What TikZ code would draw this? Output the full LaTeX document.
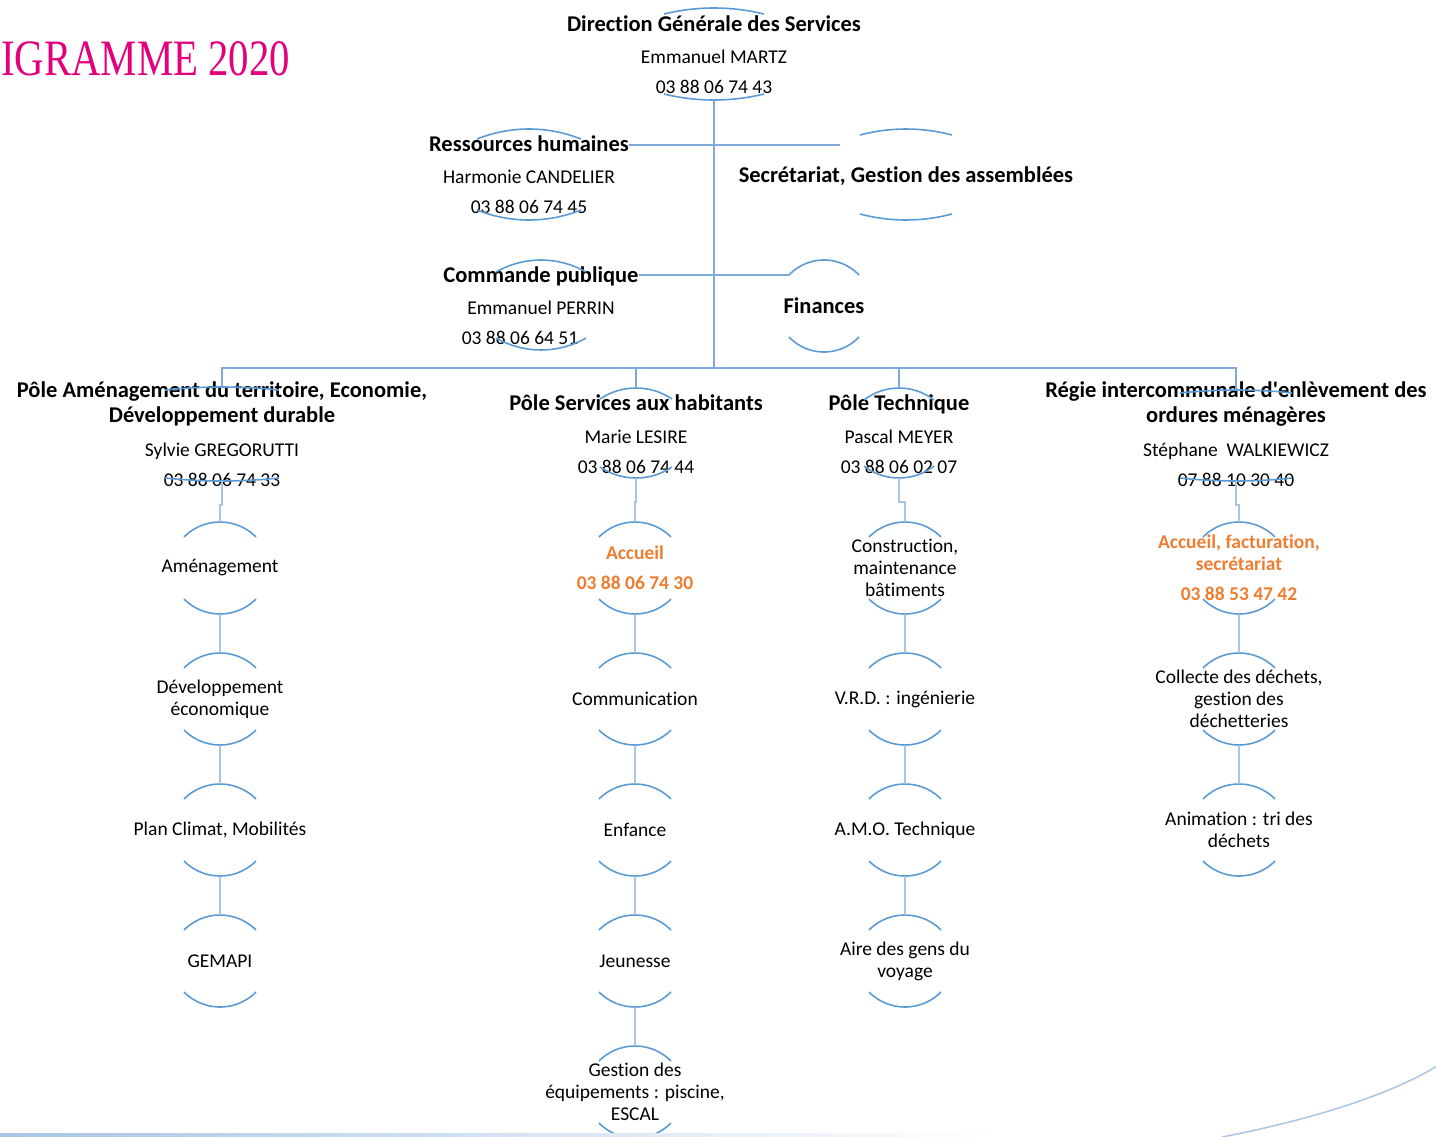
\documentclass[tikz,border=0pt]{standalone}
\usepackage{fontspec}
\setmainfont{Carlito}[Ligatures={NoCommon}]
\newfontfamily\titlefont[FakeStretch=0.8]{Liberation Serif}
\usetikzlibrary{calc}
\definecolor{capblue}{HTML}{5B9BD5}
\definecolor{linkblue}{HTML}{7FA9DC}
\definecolor{subblue}{HTML}{A9C5E6}
\definecolor{accent}{HTML}{ED7D31}
\definecolor{rose}{HTML}{E3007D}

% bold first line of a header box
\newcommand{\hdt}[1]{{\bfseries\fontsize{22.5}{25}\selectfont #1}}
% top and bottom arcs of a box: name, half chord, sagitta, apex above, apex below
\newcommand{\arcpair}[5]{%
  \pgfmathsetmacro{\capR}{(#2*#2+#3*#3)/(2*#3)}%
  \pgfmathsetmacro{\capA}{asin(#2/\capR)}%
  \coordinate (#1-t) at ($(#1.center)+(0,#4)$);%
  \coordinate (#1-b) at ($(#1.center)+(0,-#5)$);%
  \draw[capline] ($(#1-t)+(-#2,-#3)$) arc[start angle={90+\capA}, end angle={90-\capA}, radius=\capR];%
  \draw[capline] ($(#1-b)+(-#2,#3)$) arc[start angle={270-\capA}, end angle={270+\capA}, radius=\capR];%
}

\begin{document}
\begin{tikzpicture}[x=1pt, y=1pt,
  hd/.style={align=center, inner sep=0pt, font=\fontsize{19.5}{23}\selectfont},
  svc/.style={align=center, inner sep=0pt, font=\fontsize{19.5}{22}\selectfont},
  hot/.style={svc, text=accent, font=\bfseries\fontsize{19.5}{22}\selectfont},
  capline/.style={capblue, line width=1.6pt},
  trunk/.style={linkblue, line width=1.4pt},
  sublink/.style={subblue, line width=1.4pt}
]
  \useasboundingbox (0,0) rectangle (1436,-1136);

  \node[anchor=base west, inner sep=0pt, text=rose, font=\titlefont\fontsize{51}{51}\selectfont] (ttl) at (1,-75) {IGRAMME 2020};

  % direction and services
  \node[hd] (dgs) at (714,-55) {\hdt{Direction Générale des Services}\\[9pt]Emmanuel MARTZ\\[7pt]03 88 06 74 43};
  \node[hd] (rh) at (529,-175) {\hdt{Ressources humaines}\\[9pt]Harmonie CANDELIER\\[7pt]03 88 06 74 45};
  \node[hd] (sec) at (906,-176) {\hdt{Secrétariat, Gestion des assemblées}};
  \node[hd] (cp) at (541,-306) {\hdt{Commande publique}\\[9pt]Emmanuel PERRIN\\[7pt]03 88 06 64 51\hspace*{42pt}};
  \node[hd] (fin) at (824,-306) {\hdt{Finances}};

  % poles
  \node[hd] (p1) at (222,-434) {\hdt{Pôle Aménagement du territoire, Economie,}\\[2pt]\hdt{Développement durable}\\[11pt]Sylvie GREGORUTTI\\[7pt]03 88 06 74 33};
  \node[hd] (p2) at (636,-434) {\hdt{Pôle Services aux habitants}\\[10pt]Marie LESIRE\\[7pt]03 88 06 74 44};
  \node[hd] (p3) at (899,-434) {\hdt{Pôle Technique}\\[10pt]Pascal MEYER\\[7pt]03 88 06 02 07};
  \node[hd] (p4) at (1236,-434) {\hdt{Régie intercommunale d\textquotesingle enlèvement des}\\[2pt]\hdt{ordures ménagères}\\[11pt]Stéphane\ \ WALKIEWICZ\\[7pt]07 88 10 30 40};

  % services
  \node[svc] (amg) at (220,-568) {Aménagement};
  \node[svc] (dev) at (220,-699) {Développement\\économique};
  \node[svc] (pcl) at (220,-830) {Plan Climat, Mobilités};
  \node[svc] (gem) at (220,-961) {GEMAPI};
  \node[hot] (acc) at (635,-568) {Accueil\\[8pt]03 88 06 74 30};
  \node[svc] (com) at (635,-699) {Communication};
  \node[svc] (enf) at (635,-830) {Enfance};
  \node[svc] (jeu) at (635,-961) {Jeunesse};
  \node[svc] (equ) at (635,-1092) {Gestion des\\équipements : piscine,\\ESCAL};
  \node[svc] (con) at (905,-568) {Construction,\\maintenance\\bâtiments};
  \node[svc] (vrd) at (905,-699) {V.R.D. : ingénierie};
  \node[svc] (amo) at (905,-830) {A.M.O. Technique};
  \node[svc] (agv) at (905,-961) {Aire des gens du\\voyage};
  \node[hot] (fac) at (1239,-568) {Accueil, facturation,\\secrétariat\\[8pt]03 88 53 47 42};
  \node[svc] (col) at (1239,-699) {Collecte des déchets,\\gestion des\\déchetteries};
  \node[svc] (ani) at (1239,-830) {Animation : tri des\\déchets};

  % arcs
  \arcpair{dgs}{50}{6}{47}{45}
  \arcpair{rh}{52}{10}{46}{45}
  \arcpair{sec}{46}{6}{47}{44}
  \arcpair{cp}{45}{12}{46}{44}
  \arcpair{fin}{35}{15}{46}{46}
  \arcpair{p1}{57}{3}{47}{47}
  \arcpair{p2}{36}{11}{46}{44}
  \arcpair{p3}{35}{12}{46}{44}
  \arcpair{p4}{56}{3}{44}{47}
  \foreach \n in {amg,dev,pcl,gem,acc,com,enf,jeu,equ,con,vrd,amo,agv,fac,col,ani} {\arcpair{\n}{36}{15}{46}{46}}

  % connectors
  \coordinate (hub) at (714,-368);
  \coordinate (sec-in) at (840,-145);
  \coordinate (fin-in) at ($(fin-t)+(-35,-15)$);
  \draw[trunk] (dgs-b) -- (hub);
  \draw[trunk] (rh.north east |- sec-in) -- (sec-in);
  \draw[trunk] (cp.north east |- fin-in) -- (fin-in);
  \foreach \p in {p1,p2,p3,p4} {\draw[trunk] (hub) -| (\p-t);}
  \draw[sublink] (p1-b) -- ++(0,-24) -| (amg-t);
  \draw[sublink] (p2-b) -- ++(0,-24) -| (acc-t);
  \draw[sublink] (p3-b) -- ++(0,-24) -| (con-t);
  \draw[sublink] (p4-b) -- ++(0,-24) -| (fac-t);
  \foreach \a/\b in {amg/dev,dev/pcl,pcl/gem,acc/com,com/enf,enf/jeu,jeu/equ,con/vrd,vrd/amo,amo/agv,fac/col,col/ani} {\draw[sublink] (\a-b) -- (\b-t);}

  % page decoration
  \shade[left color=subblue, right color=white] (0,-1136) rectangle (1000,-1133);
  \draw[subblue, line width=1.5pt] (1222,-1137) .. controls (1320,-1118) and (1395,-1092) .. (1437,-1066);
\end{tikzpicture}
\end{document}
